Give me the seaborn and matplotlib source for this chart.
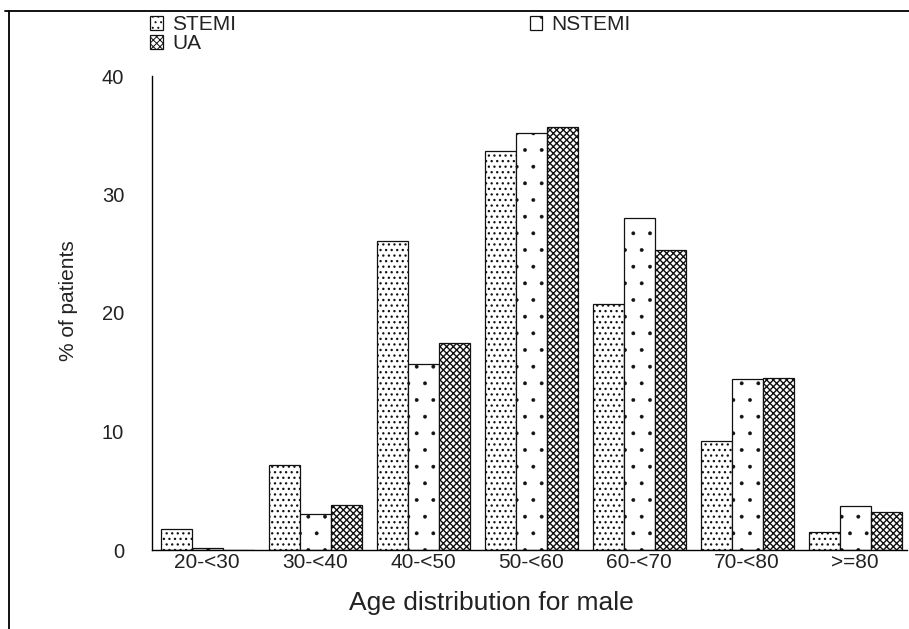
import matplotlib
matplotlib.use("Agg")
import matplotlib.pyplot as plt
from matplotlib.patches import Patch
from matplotlib.lines import Line2D
import pandas as pd
import seaborn as sns

# Share of patients (%) per age group, by diagnosis
age_groups = ["20-<30", "30-<40", "40-<50", "50-<60", "60-<70", "70-<80", ">=80"]
stemi = [1.8, 7.2, 26.1, 33.7, 20.8, 9.2, 1.5]
nstemi = [0.2, 3.0, 15.7, 35.2, 28.0, 14.4, 3.7]
ua = [0.0, 3.8, 17.5, 35.7, 25.3, 14.5, 3.2]
series_names = ["STEMI", "NSTEMI", "UA"]
y_ticks = [0, 10, 20, 30, 40]

hatches = {"STEMI": "...", "NSTEMI": ".", "UA": "xxxxx"}
hatch_widths = {"STEMI": 0.9, "NSTEMI": 0.3, "UA": 1.0}

df = pd.DataFrame({
    "age": age_groups * 3,
    "type": [s for s in series_names for _ in age_groups],
    "pct": stemi + nstemi + ua,
})

sns.set_theme(style="white")
plt.rcParams["font.family"] = ["Liberation Sans", "DejaVu Sans"]
plt.rcParams["hatch.linewidth"] = 0.7
plt.rcParams["hatch.color"] = "black"

fig = plt.figure(figsize=(9.09, 6.29), dpi=100)
ax = fig.add_axes([152 / 909, 79 / 629, (907 - 152) / 909, (550 - 76) / 629])

sns.barplot(data=df, x="age", y="pct", hue="type", order=age_groups,
            hue_order=series_names, palette=["white"] * 3, saturation=1,
            edgecolor="#111111", linewidth=0.9, width=0.86, gap=0,
            legend=False, ax=ax)


def style_patch(p, name):
    p.set_hatch(hatches[name])
    if hasattr(p, "set_hatch_linewidth"):
        p.set_hatch_linewidth(hatch_widths[name])


for cont, name in zip(ax.containers, series_names):
    for bar in cont:
        style_patch(bar, name)

ax.set_xlim(-0.51, 6.48)
ax.set_ylim(0, 40)
ax.set_yticks(y_ticks)

for side in ("top", "right"):
    ax.spines[side].set_visible(False)
for side in ("left", "bottom"):
    ax.spines[side].set_color("black")
    ax.spines[side].set_linewidth(1.0)

ax.tick_params(axis="x", length=0, pad=2, labelsize=15, colors="#222222")
ax.tick_params(axis="y", direction="out", length=7, width=1, pad=13,
               labelsize=14.5, colors="black", labelcolor="#222222")

ax.set_xlabel("Age distribution for male", fontsize=19, color="#222222")
ax.xaxis.set_label_coords(0.449, -0.112)
ax.xaxis.label.set_verticalalignment("center")
ax.set_ylabel("% of patients", fontsize=15, color="#222222")
ax.yaxis.set_label_coords(-0.111, 0.527)
ax.yaxis.label.set_verticalalignment("center")

# Legend: STEMI / UA in the first column, NSTEMI in the second
order = ["STEMI", "UA", "NSTEMI"]
handles = []
for n in order:
    h = Patch(facecolor="white", edgecolor="#111111", linewidth=0.9)
    style_patch(h, n)
    handles.append(h)
fig.legend(handles, order, ncol=2, loc="upper left",
           bbox_to_anchor=(150 / 909, 1 - 15 / 629), frameon=False,
           fontsize=15, handlelength=0.6, handleheight=0.65,
           handletextpad=0.45, columnspacing=14.1, labelspacing=0.0,
           borderpad=0, borderaxespad=0, labelcolor="#222222")

# Outer frame lines along the top and left edges
fig.add_artist(Line2D([5 / 909, 1], [1 - 11 / 629] * 2,
                      transform=fig.transFigure, color="black", lw=1.3))
fig.add_artist(Line2D([9 / 909] * 2, [0, 1 - 11 / 629],
                      transform=fig.transFigure, color="black", lw=1.3))

fig.savefig("out.png", dpi=100, facecolor="white")
